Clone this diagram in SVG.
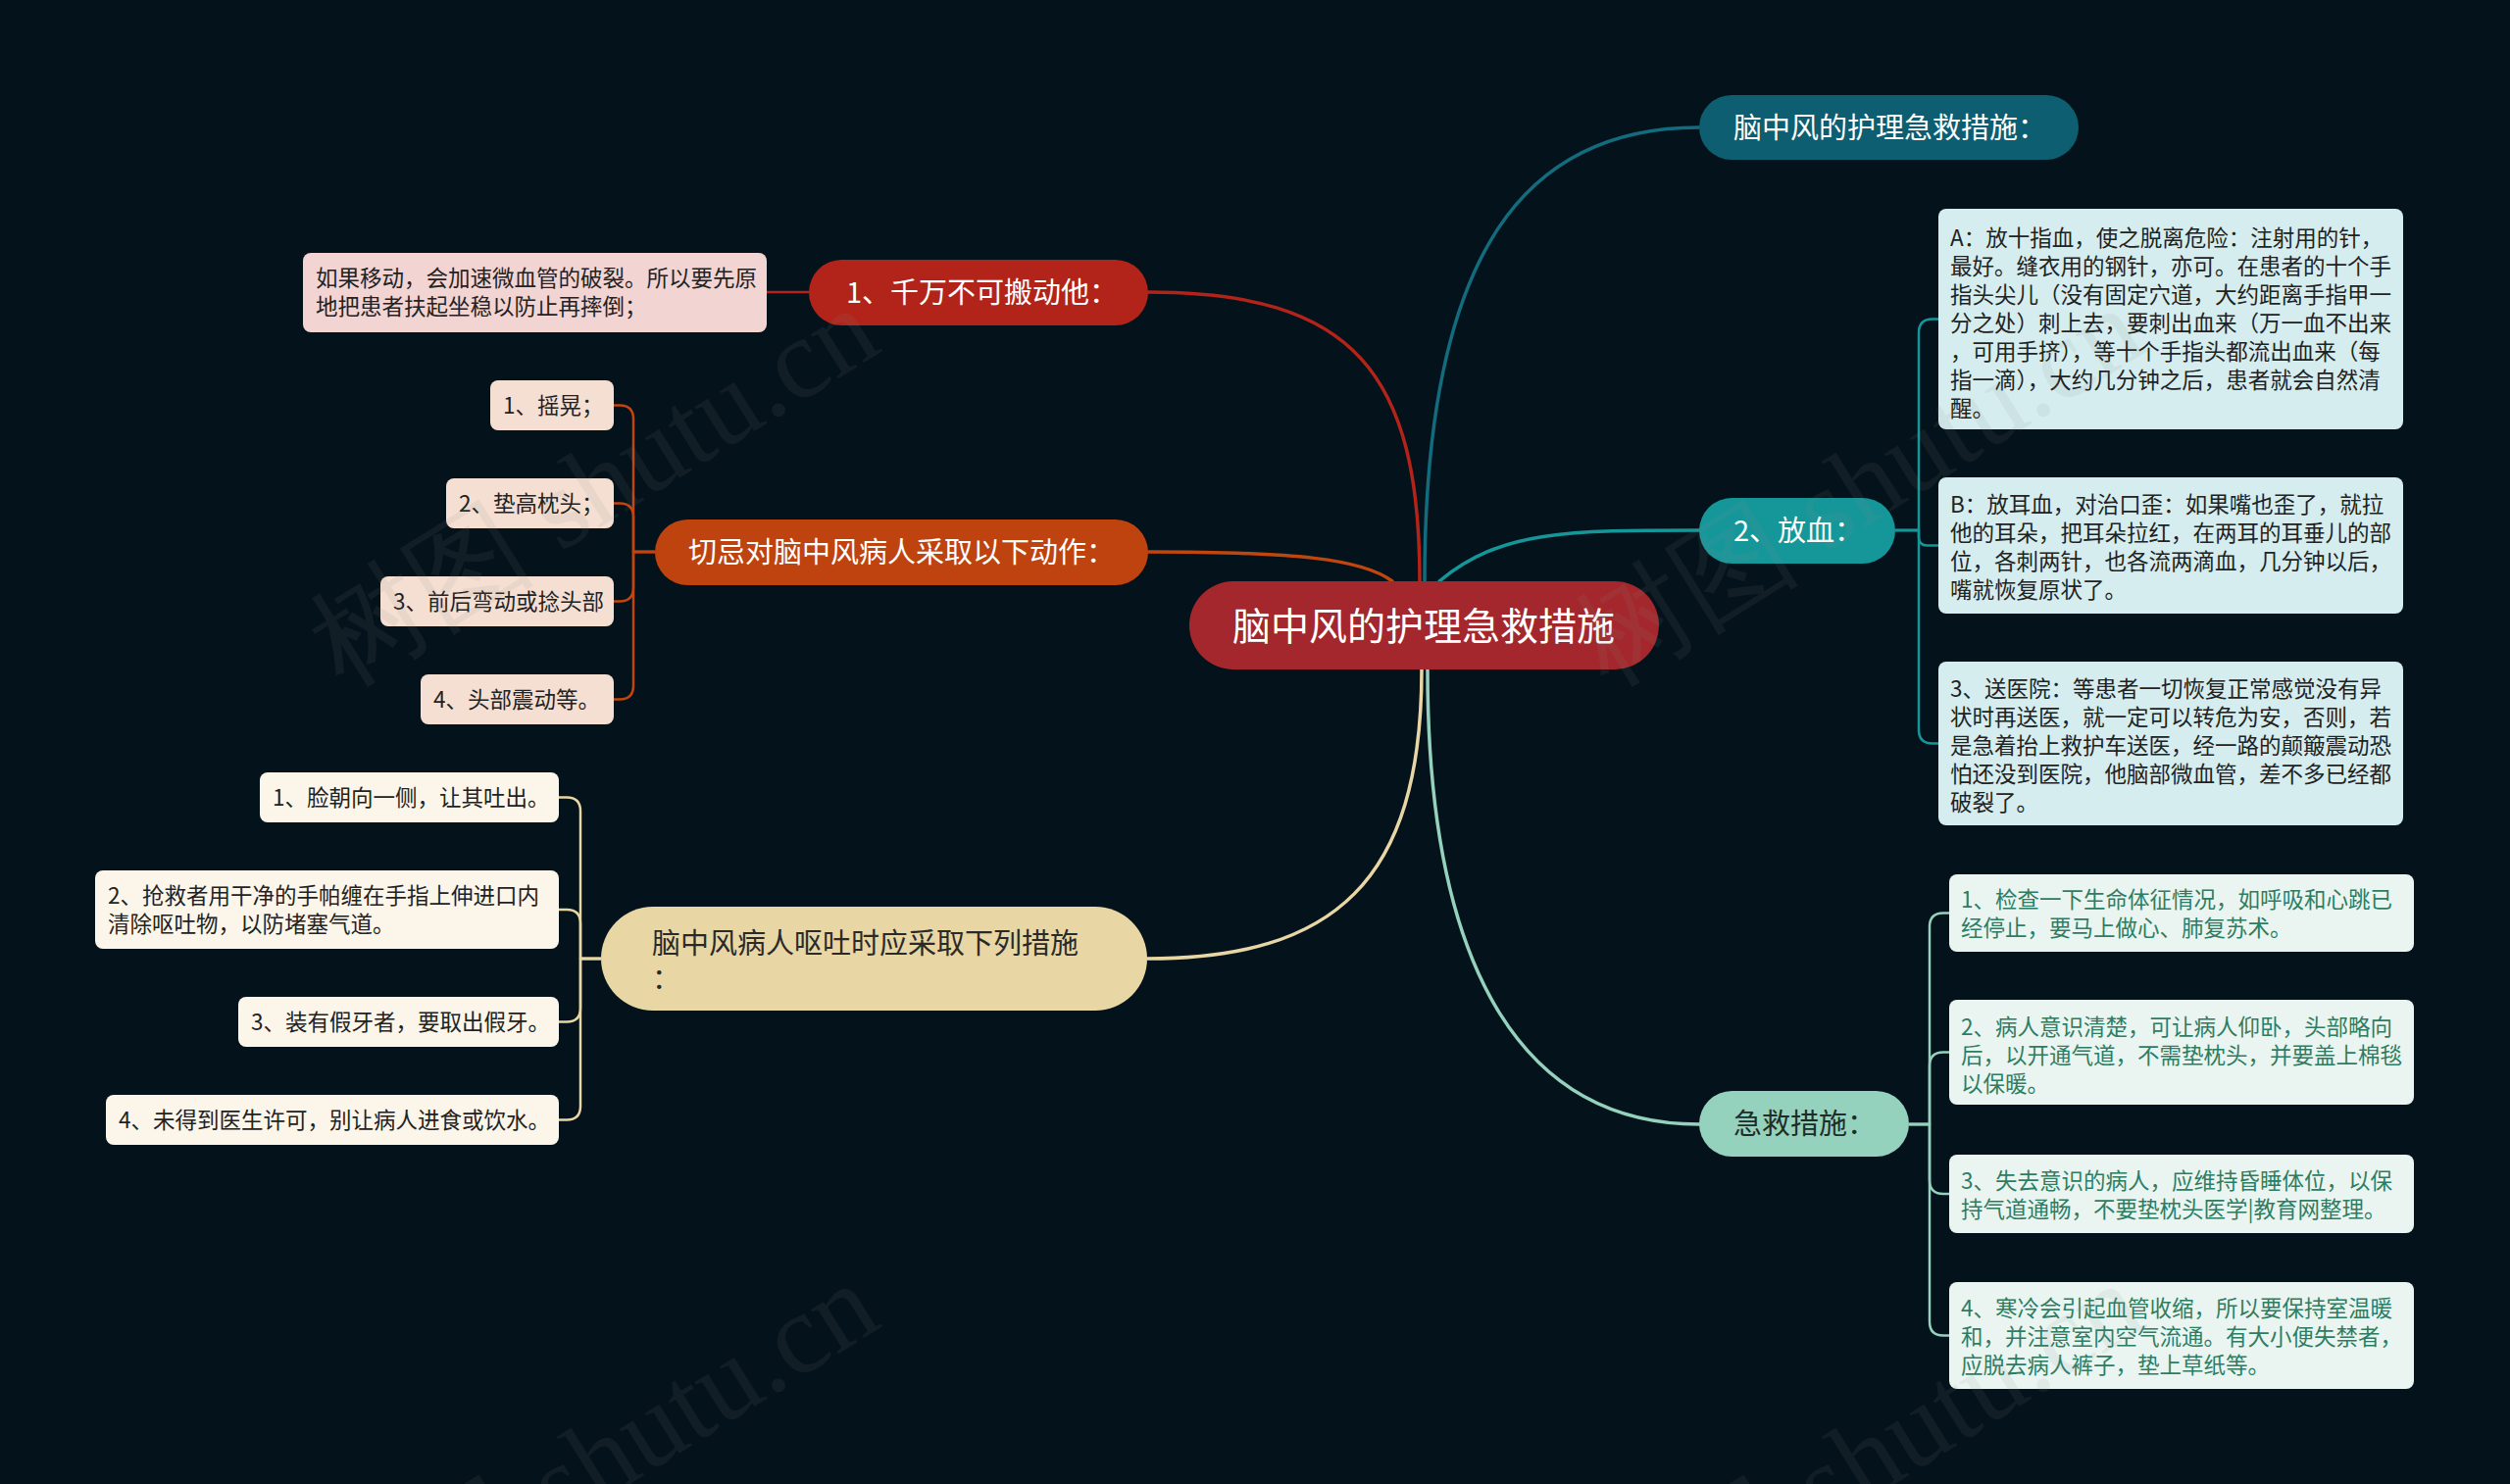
<svg xmlns="http://www.w3.org/2000/svg" width="2560" height="1514" viewBox="0 0 2560 1514">
<style>
text{font-family:"Noto Sans CJK SC","Noto Sans",sans-serif;}
.t29{font-size:29px;}
.t22{font-size:22.5px;}
.w{fill:#ffffff;}
.dk{fill:#222222;}
.gr{fill:#2E7D62;}
.ln{fill:none;stroke-width:3.5;stroke-linecap:round;}
.br{fill:none;stroke-width:2.5;stroke-linejoin:round;}
.wm{font-family:"Liberation Serif","DejaVu Serif",serif;font-size:116px;fill:#8a8a8a;opacity:0.10;}
</style>
<rect x="0" y="0" width="2560" height="1514" fill="#04121B"/>

<g id="connectors">
  <path class="ln" stroke="#B22419" d="M1171,298 C1380,298 1448,380 1448,593"/>
  <path class="ln" stroke="#C0460F" d="M1171,563 C1320,563 1390,570 1420,593"/>
  <path class="ln" stroke="#E8D6A4" d="M1450,683 C1450,900 1360,978 1170,978"/>
  <path class="ln" stroke="#136B7E" d="M1453,593 C1453,250 1560,130 1733,130"/>
  <path class="ln" stroke="#15979A" d="M1468,593 C1530,541 1600,541 1733,541"/>
  <path class="ln" stroke="#94D2BE" d="M1456,683 C1456,1000 1560,1147 1733,1147"/>

  <path class="br" stroke="#B22419" d="M782,298 L825,298"/>

  <path class="br" stroke="#C0460F" d="M668,563 L646,563 L646,427.5 Q646,413.5 632,413.5 L626,413.5"/>
  <path class="br" stroke="#C0460F" d="M668,563 L646,563 L646,527.5 Q646,513.5 632,513.5 L626,513.5"/>
  <path class="br" stroke="#C0460F" d="M668,563 L646,563 L646,599.5 Q646,613.5 632,613.5 L626,613.5"/>
  <path class="br" stroke="#C0460F" d="M668,563 L646,563 L646,699.5 Q646,713.5 632,713.5 L626,713.5"/>

  <path class="br" stroke="#E8D6A4" d="M613,978 L592,978 L592,827.5 Q592,813.5 578,813.5 L570,813.5"/>
  <path class="br" stroke="#E8D6A4" d="M613,978 L592,978 L592,942 Q592,928 578,928 L570,928"/>
  <path class="br" stroke="#E8D6A4" d="M613,978 L592,978 L592,1028.5 Q592,1042.5 578,1042.5 L570,1042.5"/>
  <path class="br" stroke="#E8D6A4" d="M613,978 L592,978 L592,1128.5 Q592,1142.5 578,1142.5 L570,1142.5"/>

  <path class="br" stroke="#15979A" d="M1933,541 L1957,541 L1957,339.5 Q1957,325.5 1971,325.5 L1977,325.5"/>
  <path class="br" stroke="#15979A" d="M1933,541 L1957,541 L1957,548 Q1957,556.5 1965.5,556.5 L1977,556.5"/>
  <path class="br" stroke="#15979A" d="M1933,541 L1957,541 L1957,744.5 Q1957,758.5 1971,758.5 L1977,758.5"/>

  <path class="br" stroke="#94D2BE" d="M1947,1147 L1968,1147 L1968,945.5 Q1968,931.5 1982,931.5 L1988,931.5"/>
  <path class="br" stroke="#94D2BE" d="M1947,1147 L1968,1147 L1968,1087.5 Q1968,1073.5 1982,1073.5 L1988,1073.5"/>
  <path class="br" stroke="#94D2BE" d="M1947,1147 L1968,1147 L1968,1204 Q1968,1218 1982,1218 L1988,1218"/>
  <path class="br" stroke="#94D2BE" d="M1947,1147 L1968,1147 L1968,1348.5 Q1968,1362.5 1982,1362.5 L1988,1362.5"/>
</g>

<g id="center">
  <rect x="1213" y="593" width="479" height="90" rx="45" fill="#A3272C"/>
  <text x="1452" y="653" text-anchor="middle" font-size="39" class="w">脑中风的护理急救措施</text>
</g>

<g id="n-bandong">
  <rect x="825" y="265" width="346" height="67" rx="33.5" fill="#B22419"/>
  <text x="863" y="309" class="t29 w">1、千万不可搬动他：</text>
</g>
<g id="n-bandong-1">
  <rect x="309" y="258" width="473" height="81" rx="8" fill="#F2D4D2"/>
  <text x="322" y="292" class="t22 dk">如果移动，会加速微血管的破裂。所以要先原</text>
  <text x="322" y="321" class="t22 dk">地把患者扶起坐稳以防止再摔倒；</text>
</g>

<g id="n-qieji">
  <rect x="668" y="530" width="503" height="67" rx="33.5" fill="#BE430F"/>
  <text x="702" y="574" class="t29 w">切忌对脑中风病人采取以下动作：</text>
</g>
<g id="n-qieji-1">
  <rect x="500" y="388" width="126" height="51" rx="8" fill="#F5DFD2"/>
  <text x="513" y="421.5" class="t22 dk">1、摇晃；</text>
</g>
<g id="n-qieji-2">
  <rect x="455" y="488" width="171" height="51" rx="8" fill="#F5DFD2"/>
  <text x="468" y="521.5" class="t22 dk">2、垫高枕头；</text>
</g>
<g id="n-qieji-3">
  <rect x="388" y="588" width="238" height="51" rx="8" fill="#F5DFD2"/>
  <text x="401" y="621.5" class="t22 dk">3、前后弯动或捻头部</text>
</g>
<g id="n-qieji-4">
  <rect x="429" y="688" width="197" height="51" rx="8" fill="#F5DFD2"/>
  <text x="442" y="721.5" class="t22 dk">4、头部震动等。</text>
</g>

<g id="n-outu">
  <rect x="613" y="925" width="557" height="106" rx="53" fill="#E8D6A4"/>
  <text x="665" y="973" class="t29" fill="#2A2A2A">脑中风病人呕吐时应采取下列措施</text>
  <text x="665" y="1009" class="t29" fill="#2A2A2A">：</text>
</g>
<g id="n-outu-1">
  <rect x="265" y="788" width="305" height="51" rx="8" fill="#FCF6EA"/>
  <text x="278" y="821.5" class="t22 dk">1、脸朝向一侧，让其吐出。</text>
</g>
<g id="n-outu-2">
  <rect x="97" y="888" width="473" height="80" rx="8" fill="#FCF6EA"/>
  <text x="110" y="922" class="t22 dk">2、抢救者用干净的手帕缠在手指上伸进口内</text>
  <text x="110" y="951" class="t22 dk">清除呕吐物，以防堵塞气道。</text>
</g>
<g id="n-outu-3">
  <rect x="243" y="1017" width="327" height="51" rx="8" fill="#FCF6EA"/>
  <text x="256" y="1050.5" class="t22 dk">3、装有假牙者，要取出假牙。</text>
</g>
<g id="n-outu-4">
  <rect x="108" y="1117" width="462" height="51" rx="8" fill="#FCF6EA"/>
  <text x="121" y="1150.5" class="t22 dk">4、未得到医生许可，别让病人进食或饮水。</text>
</g>

<g id="n-cuoshi">
  <rect x="1733" y="97" width="387" height="66" rx="33" fill="#0D5E70"/>
  <text x="1768" y="141" class="t29 w">脑中风的护理急救措施：</text>
</g>

<g id="n-fangxue">
  <rect x="1733" y="508" width="200" height="67" rx="33.5" fill="#15979A"/>
  <text x="1768" y="552" class="t29 w">2、放血：</text>
</g>
<g id="n-fangxue-a">
  <rect x="1977" y="213" width="474" height="225" rx="8" fill="#D5EDEE"/>
  <text x="1989" y="251" class="t22 dk">A：放十指血，使之脱离危险：注射用的针，</text>
  <text x="1989" y="280" class="t22 dk">最好。缝衣用的钢针，亦可。在患者的十个手</text>
  <text x="1989" y="309" class="t22 dk">指头尖儿（没有固定穴道，大约距离手指甲一</text>
  <text x="1989" y="338" class="t22 dk">分之处）刺上去，要刺出血来（万一血不出来</text>
  <text x="1989" y="367" class="t22 dk">，可用手挤），等十个手指头都流出血来（每</text>
  <text x="1989" y="396" class="t22 dk">指一滴），大约几分钟之后，患者就会自然清</text>
  <text x="1989" y="425" class="t22 dk">醒。</text>
</g>
<g id="n-fangxue-b">
  <rect x="1977" y="487" width="474" height="139" rx="8" fill="#D5EDEE"/>
  <text x="1989" y="523" class="t22 dk">B：放耳血，对治口歪：如果嘴也歪了，就拉</text>
  <text x="1989" y="552" class="t22 dk">他的耳朵，把耳朵拉红，在两耳的耳垂儿的部</text>
  <text x="1989" y="581" class="t22 dk">位，各刺两针，也各流两滴血，几分钟以后，</text>
  <text x="1989" y="610" class="t22 dk">嘴就恢复原状了。</text>
</g>
<g id="n-fangxue-c">
  <rect x="1977" y="675" width="474" height="167" rx="8" fill="#D5EDEE"/>
  <text x="1989" y="711" class="t22 dk">3、送医院：等患者一切恢复正常感觉没有异</text>
  <text x="1989" y="740" class="t22 dk">状时再送医，就一定可以转危为安，否则，若</text>
  <text x="1989" y="769" class="t22 dk">是急着抬上救护车送医，经一路的颠簸震动恐</text>
  <text x="1989" y="798" class="t22 dk">怕还没到医院，他脑部微血管，差不多已经都</text>
  <text x="1989" y="827" class="t22 dk">破裂了。</text>
</g>

<g id="n-jijiu">
  <rect x="1733" y="1113" width="214" height="67" rx="33.5" fill="#94D2BE"/>
  <text x="1768" y="1157" class="t29" fill="#1F2D29">急救措施：</text>
</g>
<g id="n-jijiu-1">
  <rect x="1988" y="892" width="474" height="79" rx="8" fill="#EAF5F1"/>
  <text x="2000" y="926" class="t22 gr">1、检查一下生命体征情况，如呼吸和心跳已</text>
  <text x="2000" y="955" class="t22 gr">经停止，要马上做心、肺复苏术。</text>
</g>
<g id="n-jijiu-2">
  <rect x="1988" y="1020" width="474" height="107" rx="8" fill="#EAF5F1"/>
  <text x="2000" y="1056" class="t22 gr">2、病人意识清楚，可让病人仰卧，头部略向</text>
  <text x="2000" y="1085" class="t22 gr">后，以开通气道，不需垫枕头，并要盖上棉毯</text>
  <text x="2000" y="1114" class="t22 gr">以保暖。</text>
</g>
<g id="n-jijiu-3">
  <rect x="1988" y="1178" width="474" height="80" rx="8" fill="#EAF5F1"/>
  <text x="2000" y="1213" class="t22 gr">3、失去意识的病人，应维持昏睡体位，以保</text>
  <text x="2000" y="1242" class="t22 gr">持气道通畅，不要垫枕头医学|教育网整理。</text>
</g>
<g id="n-jijiu-4">
  <rect x="1988" y="1308" width="474" height="109" rx="8" fill="#EAF5F1"/>
  <text x="2000" y="1343" class="t22 gr">4、寒冷会引起血管收缩，所以要保持室温暖</text>
  <text x="2000" y="1372" class="t22 gr">和，并注意室内空气流通。有大小便失禁者，</text>
  <text x="2000" y="1401" class="t22 gr">应脱去病人裤子，垫上草纸等。</text>
</g>

<g id="watermarks">
  <text class="wm" transform="translate(350,702) rotate(-32)">树图 shutu.cn</text>
  <text class="wm" transform="translate(1640,702) rotate(-32)">树图 shutu.cn</text>
  <text class="wm" transform="translate(350,1697) rotate(-32)">树图 shutu.cn</text>
  <text class="wm" transform="translate(1640,1697) rotate(-32)">树图 shutu.cn</text>
</g>
</svg>
